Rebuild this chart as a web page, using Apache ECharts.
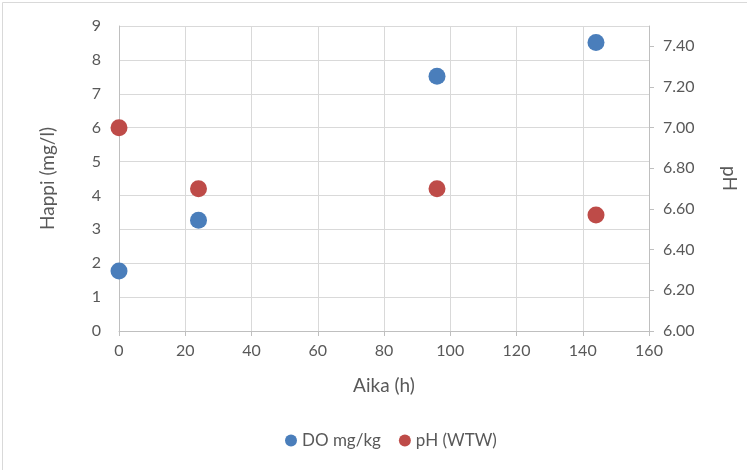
<!DOCTYPE html>
<html>
<head>
<meta charset="utf-8">
<script src="https://cdn.jsdelivr.net/npm/echarts@6/dist/echarts.min.js"></script>
<style>
html,body{margin:0;padding:0;background:#fff;}
#chart{width:747px;height:470px;}
</style>
</head>
<body>
<div id="chart"></div>
<script>
// Data
const timeHours = [0, 24, 96, 144];
const doValues = [1.77, 3.27, 7.52, 8.51];
const phValues = [7.00, 6.70, 6.70, 6.57];
const seriesNames = ['DO mg/kg', 'pH (WTW)'];
const xAxisName = 'Aika (h)';
const yLeftName = 'Happi (mg/l)';
const yRightName = 'pH';

const FONT = 'Lato, "Liberation Sans", sans-serif';
const TXT = '#595959';
const GRID = '#d9d9d9';

const chart = echarts.init(document.getElementById('chart'));
chart.setOption({
  animation: false,
  backgroundColor: '#fff',
  textStyle: { fontFamily: FONT },
  graphic: [{
    type: 'rect', left: 0, top: 0,
    shape: { x: 0.5, y: 0.5, width: 745, height: 468 },
    style: { fill: 'none', stroke: '#d9d9d9', lineWidth: 1 },
    silent: true
  }],
  grid: { left: 119, right: 98, top: 26, bottom: 139, containLabel: false },
  legend: {
    bottom: 16, left: 280,
    itemWidth: 12, itemHeight: 12, itemGap: 18,
    icon: 'circle',
    textStyle: { color: TXT, fontSize: 17, fontFamily: FONT },
    data: seriesNames
  },
  xAxis: {
    type: 'value', min: 0, max: 160, interval: 20,
    name: xAxisName, nameLocation: 'middle', nameGap: 45,
    nameTextStyle: { color: TXT, fontSize: 19, fontFamily: FONT },
    axisLine: { show: true, lineStyle: { color: '#bfbfbf' } },
    axisTick: { show: true, length: 5, lineStyle: { color: '#bfbfbf' } },
    axisLabel: { color: TXT, fontSize: 16, margin: 12, fontFamily: FONT },
    splitLine: { show: true, lineStyle: { color: GRID } }
  },
  yAxis: [{
    type: 'value', min: 0, max: 9, interval: 1, position: 'left',
    name: yLeftName, nameLocation: 'middle', nameGap: 62, nameRotate: 90,
    nameTextStyle: { color: TXT, fontSize: 19, fontFamily: FONT },
    axisLine: { show: true, lineStyle: { color: '#bfbfbf' } },
    axisTick: { show: false },
    axisLabel: { color: TXT, fontSize: 16, margin: 18, fontFamily: FONT },
    splitLine: { show: true, lineStyle: { color: GRID } }
  }, {
    type: 'value', min: 6, max: 7.5, interval: 0.2, position: 'right',
    name: yRightName, nameLocation: 'middle', nameGap: 71, nameRotate: -90,
    nameTextStyle: { color: TXT, fontSize: 19, fontFamily: FONT },
    axisLine: { show: true, lineStyle: { color: '#bfbfbf' } },
    axisTick: { show: true, length: 5, lineStyle: { color: '#bfbfbf' } },
    axisLabel: { color: TXT, fontSize: 16, margin: 14, fontFamily: FONT, showMaxLabel: false,
      formatter: v => v.toFixed(2) },
    splitLine: { show: false }
  }],
  series: [{
    name: seriesNames[0], type: 'scatter', yAxisIndex: 0,
    symbolSize: 17,
    itemStyle: { color: '#4a7ebb', opacity: 1 },
    data: timeHours.map((t, i) => [t, doValues[i]])
  }, {
    name: seriesNames[1], type: 'scatter', yAxisIndex: 1,
    symbolSize: 17,
    itemStyle: { color: '#be4b48', opacity: 1 },
    data: timeHours.map((t, i) => [t, phValues[i]])
  }]
});
</script>
</body>
</html>
